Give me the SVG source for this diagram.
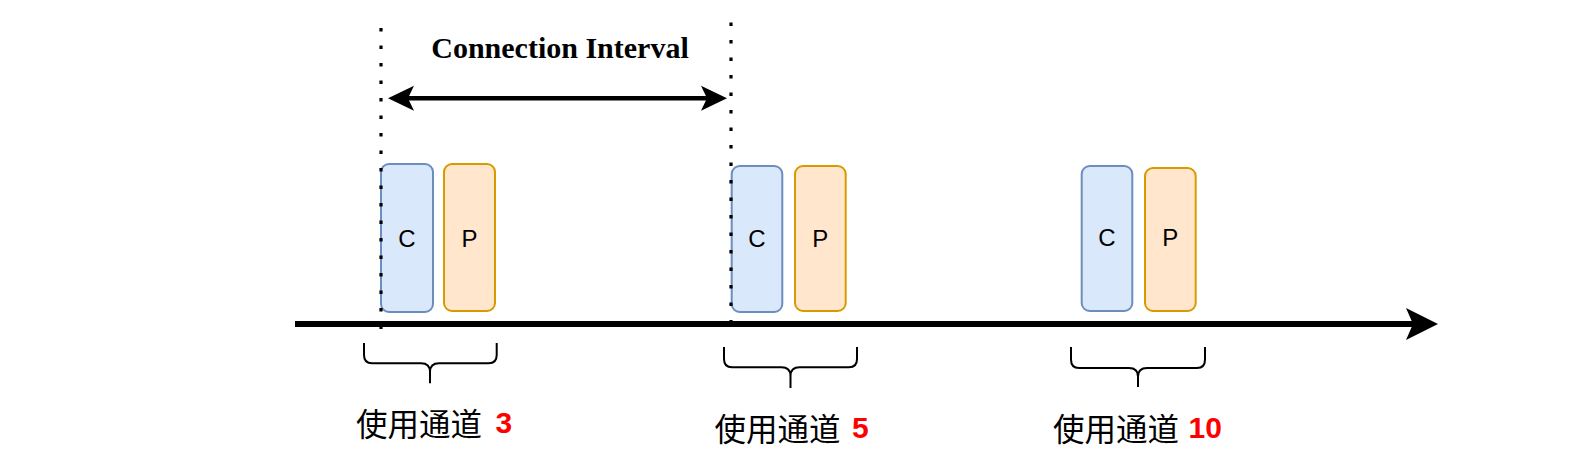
<svg xmlns="http://www.w3.org/2000/svg" width="1594" height="473" viewBox="0 0 1594 473">
<style>
.c{fill:#dae8fc;stroke:#6c8ebf;stroke-width:2}
.p{fill:#ffe6cc;stroke:#d79b00;stroke-width:2}
.lbl{font-family:"Liberation Sans",Arial,sans-serif;font-size:24px;fill:#000;text-anchor:middle}
.dot{stroke:#000;stroke-width:3.2;stroke-dasharray:3.5 14;fill:none}
.brace{fill:none;stroke:#000;stroke-width:2}
.cjk{font-family:"Noto Sans CJK SC",sans-serif;font-size:31.5px;fill:#000}
.num{font-family:"Liberation Sans",Arial,sans-serif;font-weight:bold;font-size:30px;fill:#ff0000}
.title{font-family:"Liberation Serif","Times New Roman",serif;font-weight:bold;font-size:30px;fill:#000;text-anchor:middle}
</style>
<defs>
<marker id="ah" markerUnits="userSpaceOnUse" markerWidth="32" markerHeight="32" viewBox="0 0 32 32" refX="7" refY="16" orient="auto-start-reverse">
<path d="M0,0 L32,16 L0,32 L7,16 Z" fill="#000"/>
</marker>
<marker id="ah2" markerUnits="userSpaceOnUse" markerWidth="26" markerHeight="26" viewBox="0 0 26 26" refX="6" refY="13" orient="auto-start-reverse">
<path d="M0,0.5 L26,13 L0,25.5 L6,13 Z" fill="#000"/>
</marker>
</defs>

<g id="connectors">
<line x1="295" y1="324" x2="1413" y2="324" stroke="#000" stroke-width="6" marker-end="url(#ah)"/>
<line x1="408" y1="98.3" x2="707" y2="98.3" stroke="#000" stroke-width="4.5" marker-start="url(#ah2)" marker-end="url(#ah2)"/>
</g>

<g id="C1"><rect class="c" x="381" y="164" width="52" height="148" rx="8"/><text class="lbl" x="407" y="247">C</text></g>
<g id="P1"><rect class="p" x="444" y="164" width="51" height="147" rx="8"/><text class="lbl" x="469.5" y="247">P</text></g>
<g id="C2"><rect class="c" x="731.7" y="166" width="50.6" height="146" rx="8"/><text class="lbl" x="757" y="247">C</text></g>
<g id="P2"><rect class="p" x="795" y="166" width="50.7" height="145" rx="8"/><text class="lbl" x="820.3" y="247">P</text></g>
<g id="C3"><rect class="c" x="1081.7" y="166" width="50.6" height="145" rx="8"/><text class="lbl" x="1107" y="246">C</text></g>
<g id="P3"><rect class="p" x="1145" y="168" width="50.7" height="143" rx="8"/><text class="lbl" x="1170.3" y="246">P</text></g>

<g id="dotlines">
<line class="dot" x1="381" y1="28" x2="381" y2="330"/>
<line class="dot" x1="731" y1="22.5" x2="731" y2="323"/>
</g>

<g id="title"><text class="title" x="560" y="57.7">Connection Interval</text></g>

<g id="brace1"><path class="brace" d="M364,343 V355 Q364,363.3 372,363.3 H421 Q430,363.3 430,372 V383.3 M430,372 Q430,363.3 439,363.3 H488.7 Q496.7,363.3 496.7,355 V343"/></g>
<g id="brace2"><path class="brace" d="M724,347 V359 Q724,367.3 732,367.3 H781.5 Q790.5,367.3 790.5,376 V388 M790.5,376 Q790.5,367.3 799.5,367.3 H849 Q857,367.3 857,359 V347"/></g>
<g id="brace3"><path class="brace" d="M1071,347 V359.5 Q1071,368 1079,368 H1129 Q1138,368 1138,376.5 V387 M1138,376.5 Q1138,368 1147,368 H1197 Q1205,368 1205,359.5 V347"/></g>

<g id="label1"><text x="356" y="435.5"><tspan class="cjk">使用通道</tspan><tspan class="num" x="495.5" y="433">3</tspan></text></g>
<g id="label2"><text x="714.5" y="440.5"><tspan class="cjk">使用通道</tspan><tspan class="num" x="852" y="438">5</tspan></text></g>
<g id="label3"><text x="1053" y="440.5"><tspan class="cjk">使用通道</tspan><tspan class="num" x="1188.5" y="438">10</tspan></text></g>
</svg>
